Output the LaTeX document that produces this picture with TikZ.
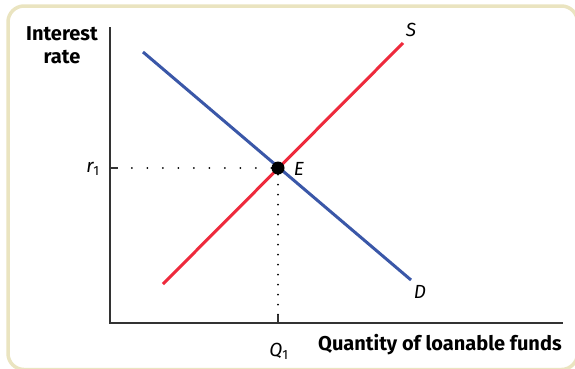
\documentclass[tikz,border=0pt]{standalone}
\usepackage{fontspec}
\setmainfont{Fira Sans}
\usetikzlibrary{positioning}

\definecolor{framebeige}{HTML}{EAE4C0}
\definecolor{supplyred}{HTML}{EE2A3C}
\definecolor{demandblue}{HTML}{3A57A8}

\begin{document}
\begin{tikzpicture}[
                x=1pt, y=-1pt,
                axis/.style={draw=black!80, line width=1.4pt},
                curve/.style={line width=3pt},
                guide/.style={line width=2pt, line cap=round},
                lbl/.style={font=\itshape\fontsize{19}{19}\selectfont, inner sep=1pt},
                axistitle/.style={font=\bfseries\fontsize{20}{23}\selectfont, align=center, inner sep=0pt}
            ]

            \useasboundingbox (0,0) rectangle (575,368);
            \draw[framebeige, line width=3.5pt, rounded corners=16pt, fill=white] (8,6) rectangle (577.5,369.5);

            \coordinate (O) at (110,323);
            \coordinate (Ytop) at (110,27);
            \coordinate (Xend) at (563,323);

            \coordinate (S0) at (163,284);
            \coordinate (S1) at (403,43);
            \coordinate (D0) at (143,52);
            \coordinate (D1) at (411,280);

            \draw[axis] (Ytop) -- (O) -- (Xend);

            \draw[curve, supplyred] (S0) -- (S1);
            \draw[curve, demandblue] (D0) -- (D1);

            \node[circle, fill=black, minimum size=13pt, inner sep=0pt] (E) at (278,168) {};

            % dotted guides to the axes
            \draw[guide, dash pattern=on 0pt off 15.5pt] (E) -- (E -| O);
            \draw[guide, dash pattern=on 0pt off 10pt] (E) -- (E |- O);
            \draw[axis, line width=1.2pt] (E -| O) -- ++(8,0);
            \draw[axis, line width=1.2pt] (E |- O) -- ++(0,-8);

            \node[lbl] (Elbl) at (299,169) {E};
            \node[lbl] (Slbl) at (411,30) {S};
            \node[lbl] (Dlbl) at (420,292) {D};
            \node[lbl] (r1) at (93,169) {r\textsubscript{\upshape 1}};
            \node[lbl] (Q1) at (279,351) {Q\textsubscript{\upshape 1}};

            \node[axistitle] (ytitle) at (62,45) {Interest\\rate};
            \node[axistitle, anchor=west] (xtitle) at (318,345) {Quantity of loanable funds};

        \end{tikzpicture}
\end{document}
